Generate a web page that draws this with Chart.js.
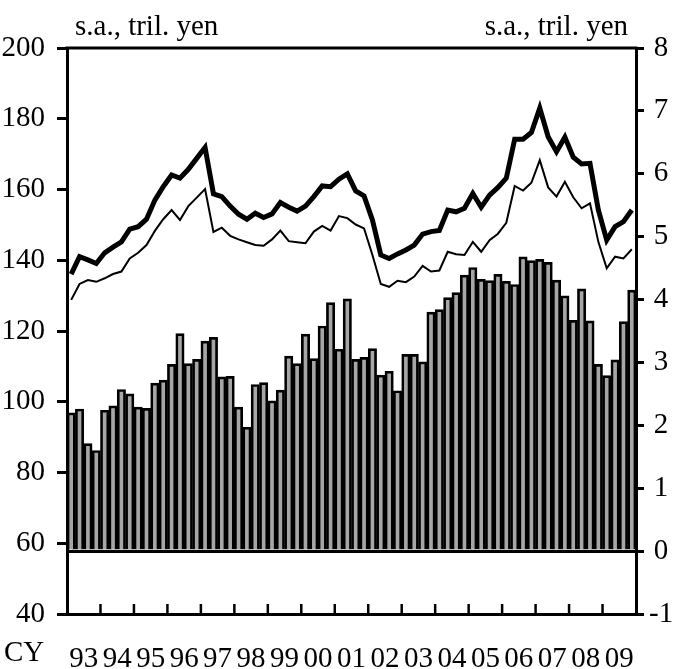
<!DOCTYPE html>
<html lang="en">
<head>
    <meta charset="UTF-8">
    <title>Chart</title>
    <script src="https://cdn.jsdelivr.net/npm/chart.js"></script>
    <style>
        body { margin: 0; background: #fff; }
        #wrap { width: 685px; height: 669px; position: relative; }
    </style>
</head>
<body>
    <div id="wrap"><canvas id="chart"></canvas></div>

    <script>
        // calendar years (x axis) and quarters
        const years = ['93','94','95','96','97','98','99','00','01','02','03','04','05','06','07','08','09'];
        const quarters = years.flatMap(y => ['Q1','Q2','Q3','Q4'].map(q => y + q));

        // right axis (tril. yen): bars
        const barValues = [
            2.20, 2.26, 1.71, 1.60, 2.24, 2.31, 2.57, 2.50, 2.29, 2.27,
            2.67, 2.72, 2.97, 3.46, 2.98, 3.05, 3.34, 3.40, 2.77, 2.78,
            2.29, 1.97, 2.65, 2.68, 2.39, 2.56, 3.10, 2.98, 3.45, 3.06,
            3.58, 3.95, 3.21, 4.01, 3.05, 3.08, 3.22, 2.80, 2.86, 2.55,
            3.13, 3.13, 3.01, 3.80, 3.84, 4.03, 4.11, 4.39, 4.51, 4.32,
            4.30, 4.40, 4.29, 4.24, 4.68, 4.62, 4.64, 4.59, 4.31, 4.06,
            3.67, 4.17, 3.66, 2.97, 2.79, 3.04, 3.65, 4.15
        ];

        // left axis (tril. yen): thick line
        const thickLine = [
            136.1, 141.0, 140.1, 139.1, 142.1, 143.7, 145.2, 148.8, 149.5, 151.6,
            157.0, 160.8, 164.1, 163.2, 165.7, 168.8, 171.9, 158.8, 158.0, 155.3,
            153.0, 151.6, 153.3, 152.1, 153.1, 156.3, 155.0, 153.9, 155.3, 158.0,
            161.0, 160.8, 162.9, 164.4, 159.6, 158.2, 151.4, 141.5, 140.5, 141.8,
            142.9, 144.3, 147.4, 148.1, 148.4, 154.2, 153.7, 154.7, 158.9, 155.0,
            158.4, 160.6, 163.2, 174.2, 174.2, 176.1, 183.0, 174.9, 170.7, 174.8,
            169.1, 167.2, 167.4, 154.2, 145.7, 149.5, 150.9, 154.2
        ];

        // left axis (tril. yen): thin line
        const thinLine = [
            128.8, 133.3, 134.4, 133.9, 134.9, 136.1, 136.8, 140.5, 142.1, 144.3,
            148.3, 151.6, 154.2, 151.4, 155.3, 157.7, 160.1, 148.0, 149.2, 146.9,
            145.9, 145.1, 144.3, 144.1, 145.9, 148.4, 145.4, 145.1, 144.8, 148.1,
            149.7, 148.4, 152.5, 151.9, 150.1, 149.0, 141.5, 133.3, 132.5, 134.2,
            133.8, 135.4, 138.4, 136.8, 137.1, 142.4, 141.7, 141.5, 145.2, 142.4,
            145.7, 147.5, 150.6, 161.0, 159.7, 161.9, 168.3, 160.6, 158.0, 162.2,
            157.8, 154.7, 156.1, 145.2, 137.7, 141.0, 140.5, 143.1
        ];

        const unitText = 's.a., tril. yen';
        const FONT = "'Liberation Serif', 'Times New Roman', serif";
        const FS = 29;

        // frame top, inward year ticks, CY and unit labels
        const decor = {
            id: 'decor',
            afterDraw(chart) {
                const ctx = chart.ctx;
                const ca = chart.chartArea;
                const x = chart.scales.x;
                ctx.save();
                ctx.strokeStyle = '#000';
                ctx.lineWidth = 3;
                ctx.beginPath();
                ctx.moveTo(ca.left - 1.5, ca.top);
                ctx.lineTo(ca.right + 1.5, ca.top);
                ctx.stroke();

                ctx.lineWidth = 2.5;
                for (let i = 1; i < years.length; i++) {
                    const px = (x.getPixelForValue(4 * i - 1) + x.getPixelForValue(4 * i)) / 2;
                    ctx.beginPath();
                    ctx.moveTo(px, ca.bottom);
                    ctx.lineTo(px, ca.bottom - 10);
                    ctx.stroke();
                }

                ctx.fillStyle = '#000';
                ctx.font = FS + 'px ' + FONT;
                ctx.textBaseline = 'alphabetic';
                ctx.textAlign = 'left';
                ctx.fillText('CY', 4, 661);
                ctx.fillText(unitText, ca.left + 8, 35);
                ctx.textAlign = 'right';
                ctx.fillText(unitText, ca.right - 8, 35);
                ctx.restore();
            }
        };

        new Chart(document.getElementById('chart'), {
            data: {
                labels: quarters,
                datasets: [
                    { type: 'line', data: thickLine, yAxisID: 'y', borderColor: '#000', borderWidth: 5, pointRadius: 0, tension: 0, order: 0 },
                    { type: 'line', data: thinLine, yAxisID: 'y', borderColor: '#000', borderWidth: 2, pointRadius: 0, tension: 0, order: 0 },
                    { type: 'bar', data: barValues, yAxisID: 'y2', backgroundColor: '#a6a6a6', borderColor: '#000', borderWidth: 2.7, barPercentage: 1, categoryPercentage: 1, order: 1 }
                ]
            },
            options: {
                responsive: true,
                maintainAspectRatio: false,
                animation: false,
                layout: { padding: { top: 48, left: 0, right: 0, bottom: 0 } },
                plugins: { legend: { display: false }, tooltip: { enabled: false } },
                scales: {
                    x: { type: 'category', display: false, offset: true },
                    xYear: {
                        type: 'category',
                        labels: years,
                        position: 'bottom',
                        offset: true,
                        grid: { display: true, drawOnChartArea: false, drawTicks: false },
                        border: { display: true, color: '#000', width: 3 },
                        ticks: { color: '#000', font: { family: FONT, size: FS }, padding: 28, maxRotation: 0, autoSkip: false },
                        afterFit: s => { s.height = 55; }
                    },
                    y: {
                        position: 'left',
                        min: 40, max: 200,
                        ticks: { stepSize: 20, color: '#000', font: { family: FONT, size: FS }, padding: 12 },
                        grid: { drawOnChartArea: false, drawTicks: true, tickLength: 10, color: '#000', lineWidth: 3 },
                        border: { color: '#000', width: 3 },
                        afterFit: s => { s.width = 67; }
                    },
                    y2: {
                        position: 'right',
                        min: -1, max: 8,
                        ticks: { stepSize: 1, color: '#000', font: { family: FONT, size: FS }, padding: 5, crossAlign: 'center' },
                        grid: {
                            drawOnChartArea: true, drawTicks: true, tickLength: 8,
                            color: c => (c.tick && c.tick.value === 0) ? '#000' : 'rgba(0,0,0,0)',
                            tickColor: '#000', lineWidth: 3
                        },
                        border: { color: '#000', width: 3 },
                        afterFit: s => { s.width = 49; }
                    }
                }
            },
            plugins: [decor]
        });
    </script>
</body>
</html>
